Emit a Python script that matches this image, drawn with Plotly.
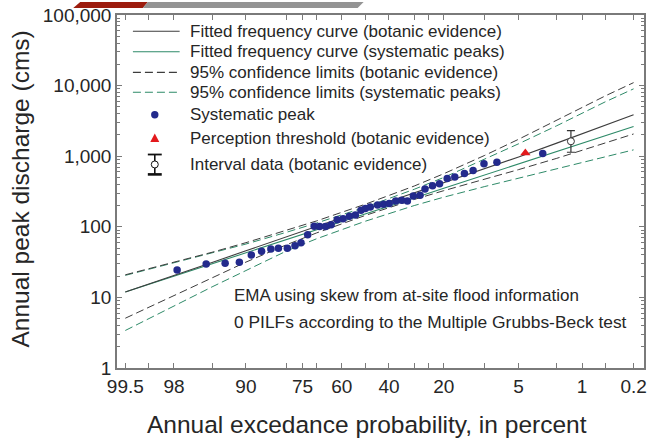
import plotly.graph_objects as go
from statistics import NormalDist

# ---------------- data ----------------
# systematic peaks: annual exceedance probability (%) and discharge (cms)
sys_exc = [97.83, 95.62, 93.38, 91.18, 88.95, 86.73, 84.47, 82.46, 79.87, 77.49,
           75.52, 73.20, 70.85, 68.83, 66.53, 64.32, 61.90, 59.44, 56.79, 54.26,
           51.87, 50.00, 47.89, 44.79, 42.27, 39.90, 37.22, 34.83, 32.60, 30.33,
           27.86, 26.11, 23.55, 21.30, 18.99, 16.86, 14.39, 12.38, 10.15, 7.90, 2.85]
sys_q = [24.5, 29.8, 30.4, 31.4, 39.9, 44.9, 48.5, 49.5, 49.5, 54,
         59.5, 77, 102, 101, 101, 107, 125.5, 130, 141, 147.5,
         172, 181, 191, 204, 209, 213, 232, 238, 232, 273,
         279, 343, 382, 407, 485, 506, 570, 627, 779, 823, 1091]

# perception threshold (botanic evidence)
thr_exc = [4.3]
thr_q = [1113]

# interval data (botanic evidence)
int_exc = [1.37]
int_q = [1626]
int_lo = [1138]
int_hi = [2298]

# frequency curves
curve_exc = [99.5, 99, 98, 95, 90, 80, 70, 50, 30, 20, 10, 5, 2, 1, 0.5, 0.2]
fit_bot = [11.9, 15.5, 20.4, 31.3, 45.7, 72.4, 100.7, 174, 300, 419, 664, 977, 1531, 2089, 2786, 3864]
fit_sys = [11.9, 15.2, 19.9, 29.9, 42.8, 66.2, 90.6, 152, 256, 351, 542, 776, 1164, 1524, 1950, 2630]
cl_bot_up = [20.9, 25.4, 31.3, 43.6, 59.6, 89, 121, 209, 378, 565, 1028, 1738, 3199, 4898, 7161, 11015]
cl_bot_lo = [5.07, 7.24, 10.7, 19.1, 31.6, 56, 81.8, 145, 244, 325, 470, 646, 933, 1216, 1560, 2065]
cl_sys_up = [20.5, 25, 30.5, 42, 57, 84, 113, 190, 340, 500, 900, 1500, 2700, 4100, 5900, 9000]
cl_sys_lo = [3.4, 5.0, 7.6, 14.1, 24, 45.7, 67.6, 120, 200, 263, 372, 490, 661, 813, 977, 1230]

# axis ticks
x_tick_exc = [99.5, 99, 98, 95, 90, 80, 75, 70, 60, 50, 40, 30, 25, 20, 10, 5, 2, 1, 0.5, 0.2]
x_tick_lab = ["99.5", "", "98", "", "90", "", "75", "", "60", "", "40", "", "", "20", "", "5", "", "1", "", "0.2"]
y_tick_vals = [1, 10, 100, 1000, 10000, 100000]
y_tick_lab = ["1", "10", "100", "1,000", "10,000", "100,000"]

legend_labels = ["Fitted frequency curve (botanic evidence)",
                 "Fitted frequency curve (systematic peaks)",
                 "95% confidence limits (botanic evidence)",
                 "95% confidence limits (systematic peaks)",
                 "Systematic peak",
                 "Perception threshold (botanic evidence)",
                 "Interval data (botanic evidence)"]
notes = ["EMA using skew from at-site flood information",
         "0 PILFs according to the Multiple Grubbs-Beck test"]

# ---------------- helpers ----------------
nd = NormalDist()


def zq(p_list):
    return [nd.inv_cdf(1 - p / 100.0) for p in p_list]


W, H = 652, 444
ML, MR, MT, MB = 117, 5, 13, 76
PW, PH = W - ML - MR, H - MT - MB


def pxx(x):
    return (x - ML) / PW


def pxy(y):
    return (H - MB - y) / PH


DARK = "#3d3d3d"
GREEN = "#2e8a68"
BLUE = "#232a8c"
RED = "#e3191c"
AXC = "#7a7a7a"
TXT = "#262626"
FONT = "Liberation Sans, Arial, sans-serif"

fig = go.Figure()

cz = zq(curve_exc)
DASH = "8px,4px"
fig.add_trace(go.Scatter(x=cz, y=cl_sys_up, mode="lines", line=dict(color=GREEN, width=1, dash=DASH)))
fig.add_trace(go.Scatter(x=cz, y=cl_sys_lo, mode="lines", line=dict(color=GREEN, width=1, dash=DASH)))
fig.add_trace(go.Scatter(x=cz, y=cl_bot_up, mode="lines", line=dict(color=DARK, width=1, dash=DASH)))
fig.add_trace(go.Scatter(x=cz, y=cl_bot_lo, mode="lines", line=dict(color=DARK, width=1, dash=DASH)))
fig.add_trace(go.Scatter(x=cz, y=fit_sys, mode="lines", line=dict(color=GREEN, width=1.1)))
fig.add_trace(go.Scatter(x=cz, y=fit_bot, mode="lines", line=dict(color=DARK, width=1.1)))

fig.add_trace(go.Scatter(x=zq(sys_exc), y=sys_q, mode="markers",
                         marker=dict(color=BLUE, size=7.5, symbol="circle")))
fig.add_trace(go.Scatter(x=zq(thr_exc), y=thr_q, mode="markers",
                         marker=dict(color=RED, size=9, symbol="triangle-up")))
fig.add_trace(go.Scatter(
    x=zq(int_exc), y=int_q, mode="markers",
    error_y=dict(type="data", symmetric=False,
                 array=[h - q for h, q in zip(int_hi, int_q)],
                 arrayminus=[q - l for q, l in zip(int_q, int_lo)],
                 color="#333333", thickness=1.2, width=4),
    marker=dict(color="white", size=7, symbol="circle", line=dict(color="#333333", width=1))))

# ---------------- legend (drawn) ----------------
shapes = []
annotations = []
rows = [29.3, 50, 70.7, 90.7, 113.3, 136.7, 163.3]
sx0, sx1, tx = 133, 180, 188
styles = [(DARK, None), (GREEN, None), (DARK, "dash"), (GREEN, "dash")]
for i, (col, dsh) in enumerate(styles):
    ln = dict(color=col, width=1.1)
    if dsh:
        ln["dash"] = DASH
    shapes.append(dict(type="line", xref="paper", yref="paper",
                       x0=pxx(sx0), x1=pxx(sx1), y0=pxy(rows[i]), y1=pxy(rows[i]), line=ln))
mx = 155
shapes.append(dict(type="circle", xref="paper", yref="paper", xsizemode="pixel", ysizemode="pixel",
                   xanchor=pxx(mx), yanchor=pxy(rows[4]), x0=-3.7, x1=3.7, y0=-3.7, y1=3.7,
                   fillcolor=BLUE, line=dict(color=BLUE, width=0)))
shapes.append(dict(type="path", xref="paper", yref="paper", xsizemode="pixel", ysizemode="pixel",
                   xanchor=pxx(mx), yanchor=pxy(rows[5]), path="M -4.5 -4 L 4.5 -4 L 0 4.5 Z",
                   fillcolor=RED, line=dict(color=RED, width=0)))
# interval glyph
iy = rows[6]
for (xa, ya, xb, yb, w) in [(mx, iy - 10, mx, iy - 3.5, 1.6), (mx, iy + 3.5, mx, iy + 10, 1.6),
                            (mx - 7, iy - 10, mx + 7, iy - 10, 1.8), (mx - 7, iy + 10, mx + 7, iy + 10, 2.6)]:
    shapes.append(dict(type="line", xref="paper", yref="paper", x0=pxx(xa), x1=pxx(xb),
                       y0=pxy(ya), y1=pxy(yb), line=dict(color="#111111", width=w)))
shapes.append(dict(type="circle", xref="paper", yref="paper", xsizemode="pixel", ysizemode="pixel",
                   xanchor=pxx(mx), yanchor=pxy(iy), x0=-3.5, x1=3.5, y0=-3.5, y1=3.5,
                   fillcolor="white", line=dict(color="#111111", width=1)))
for i, lab in enumerate(legend_labels):
    annotations.append(dict(text=lab, xref="paper", yref="paper", x=pxx(tx), y=pxy(rows[i]),
                            xanchor="left", yanchor="middle", showarrow=False,
                            font=dict(size=17, color=TXT, family=FONT)))

# notes
for txt, yy, fs in zip(notes, [295.5, 322], [17, 17.4]):
    annotations.append(dict(text=txt, xref="paper", yref="paper", x=pxx(233), y=pxy(yy),
                            xanchor="left", yanchor="middle", showarrow=False,
                            font=dict(size=fs, color=TXT, family=FONT)))

# axis titles
annotations.append(dict(text="Annual excedance probability, in percent", xref="paper", yref="paper",
                        x=pxx(368), y=pxy(425), xanchor="center", yanchor="middle", showarrow=False,
                        font=dict(size=24.5, color=TXT, family=FONT)))
annotations.append(dict(text="Annual peak discharge (cms)", xref="paper", yref="paper",
                        x=pxx(19), y=pxy(188), xanchor="center", yanchor="middle", showarrow=False,
                        textangle=-90, font=dict(size=24.5, color=TXT, family=FONT)))

# header banner decoration
shapes.append(dict(type="path", xref="paper", yref="paper", layer="above",
                   path=f"M {pxx(73)} {pxy(6)} L {pxx(80)} {pxy(0)} L {pxx(148)} {pxy(0)} L {pxx(143)} {pxy(6)} Z",
                   fillcolor="#9c1c0e", line=dict(width=0)))
shapes.append(dict(type="path", xref="paper", yref="paper", layer="above",
                   path=f"M {pxx(143)} {pxy(6)} L {pxx(148)} {pxy(0)} L {pxx(365)} {pxy(0)} L {pxx(359)} {pxy(6)} Z",
                   fillcolor="#949494", line=dict(width=0)))

minor_y = [m * 10 ** d for d in range(0, 5) for m in range(2, 10)]

fig.update_layout(
    width=W, height=H, margin=dict(l=ML, r=MR, t=MT, b=MB),
    paper_bgcolor="white", plot_bgcolor="white", showlegend=False,
    shapes=shapes, annotations=annotations,
    font=dict(family=FONT, color=TXT),
    xaxis=dict(range=[-2.665, 2.99], tickmode="array", tickvals=zq(x_tick_exc), ticktext=x_tick_lab,
               ticks="inside", ticklen=5, tickcolor=AXC, tickwidth=1, showgrid=False, zeroline=False,
               showline=True, linecolor=AXC, linewidth=1.5, mirror="ticks",
               tickfont=dict(size=19, color=TXT, family=FONT)),
    yaxis=dict(type="log", range=[0, 5], tickmode="array", tickvals=y_tick_vals, ticktext=y_tick_lab,
               ticks="inside", ticklen=5, tickcolor=AXC, tickwidth=1, showgrid=False, zeroline=False,
               showline=True, linecolor=AXC, linewidth=1.5, mirror="ticks",
               minor=dict(tickvals=minor_y, ticks="inside", ticklen=3, tickcolor=AXC, showgrid=False),
               tickfont=dict(size=19, color=TXT, family=FONT)),
)

fig.write_html("out.html")
